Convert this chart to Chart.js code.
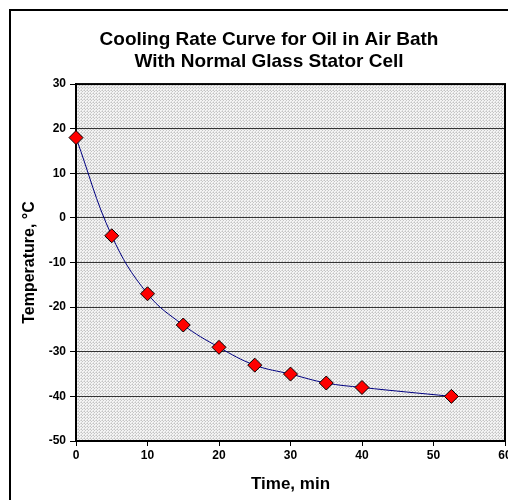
<!DOCTYPE html>
<html>
<head>
<meta charset="utf-8">
<script src="https://cdn.jsdelivr.net/npm/chart.js@4/dist/chart.umd.min.js"></script>
<style>
  html, body { margin: 0; padding: 0; background: #fff; overflow: hidden; }
  #wrap { width: 540px; height: 500px; }
</style>
</head>
<body>
<div id="wrap"><canvas id="chart" width="540" height="500"></canvas></div>
<script>
// time in minutes vs temperature in C
const timeMin = [0, 5, 10, 15, 20, 25, 30, 35, 40, 52.5];
const tempC = [18, -4, -17, -24, -29, -33, -35, -37, -38, -40];
const titleLines = ['Cooling Rate Curve for Oil in Air Bath', 'With Normal Glass Stator Cell'];

// dotted grey fill like the old spreadsheet pattern
const makePattern = (ctx) => {
  const c = document.createElement('canvas');
  c.width = 3; c.height = 3;
  const p = c.getContext('2d');
  p.fillStyle = '#f4f4f4';
  p.fillRect(0, 0, 3, 3);
  p.fillStyle = '#c4c4c4';
  p.fillRect(0, 0, 1, 1);
  p.fillRect(1, 1, 1, 1);
  p.fillStyle = '#dadada';
  p.fillRect(2, 0, 1, 1);
  p.fillRect(0, 2, 1, 1);
  return ctx.createPattern(c, 'repeat');
};

const plotBack = {
  id: 'plotBack',
  afterLayout(chart) {
    // the title is centred over the whole (wider) chart frame
    if (chart.titleBlock) chart.titleBlock.right = chart.titleBlock.left + 538;
  },
  beforeDraw(chart) {
    const { ctx, chartArea: a } = chart;
    ctx.save();
    ctx.fillStyle = makePattern(ctx);
    ctx.fillRect(a.left, a.top, a.right - a.left, a.bottom - a.top);
    ctx.restore();
  },
  beforeDatasetsDraw(chart) {
    const { ctx, chartArea: a } = chart;
    ctx.save();
    ctx.strokeStyle = '#000';
    ctx.lineWidth = 2;
    ctx.strokeRect(a.left, a.top, a.right - a.left, a.bottom - a.top);
    // outer frame of the chart
    ctx.beginPath();
    ctx.moveTo(10, 500);
    ctx.lineTo(10, 10);
    ctx.lineTo(540, 10);
    ctx.stroke();
    ctx.restore();
  }
};

const fam = 'Arial, "Liberation Sans", sans-serif';
const tickFont = { family: fam, size: 12, weight: 'bold' };

new Chart(document.getElementById('chart'), {
  type: 'line',
  data: {
    datasets: [{
      data: timeMin.map((t, i) => ({ x: t, y: tempC[i] })),
      borderColor: '#000080',
      borderWidth: 1,
      tension: 0.4,
      clip: false,
      pointStyle: 'rectRot',
      pointRadius: 7,
      pointHoverRadius: 7,
      pointBackgroundColor: '#ff0000',
      pointBorderColor: '#000',
      pointBorderWidth: 1
    }]
  },
  options: {
    responsive: false,
    animation: false,
    devicePixelRatio: 1,
    layout: { padding: { left: 0, right: 35, top: 0, bottom: 0 } },
    plugins: {
      legend: { display: false },
      tooltip: { enabled: false },
      title: {
        display: true,
        text: titleLines,
        color: '#000',
        font: { family: fam, size: 19, weight: 'bold', lineHeight: 1.16 },
        padding: { top: 29, bottom: 11 }
      }
    },
    scales: {
      x: {
        type: 'linear',
        min: 0,
        max: 60,
        ticks: { stepSize: 10, color: '#000', font: tickFont, padding: 2 },
        grid: { drawOnChartArea: false, tickLength: 5, tickColor: '#000' },
        border: { color: '#000', width: 2 },
        title: { display: true, text: 'Time, min', color: '#000', font: { family: fam, size: 17, weight: 'bold' }, padding: { top: 0, bottom: 5 } },
        afterFit(s) { s.height = 59; }
      },
      y: {
        min: -50,
        max: 30,
        ticks: { stepSize: 10, color: '#000', font: tickFont, padding: 4 },
        grid: { color: '#333', lineWidth: 1, tickLength: 6, tickColor: '#000' },
        border: { color: '#000', width: 2 },
        title: { display: true, text: 'Temperature, °C', color: '#000', font: { family: fam, size: 16, weight: 'bold' }, padding: { top: 20, bottom: 0 } },
        afterFit(s) { s.width = 76; }
      }
    }
  },
  plugins: [plotBack]
});
</script>
</body>
</html>
